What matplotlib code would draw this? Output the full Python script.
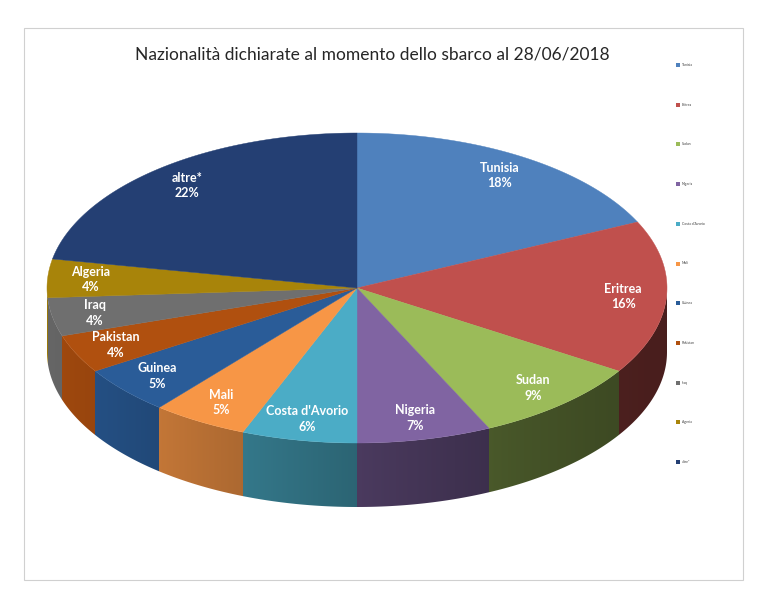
import numpy as np
import matplotlib
matplotlib.use("Agg")
import matplotlib.pyplot as plt
from matplotlib.patches import Polygon, Rectangle
from matplotlib.colors import to_rgb

plt.rcParams['font.family'] = ['Lato', 'DejaVu Sans']

title = "Nazionalità dichiarate al momento dello sbarco al 28/06/2018"
categories = ["Tunisia", "Eritrea", "Sudan", "Nigeria", "Costa d'Avorio", "Mali",
              "Guinea", "Pakistan", "Iraq", "Algeria", "altre*"]
values = [18, 16, 9, 7, 6, 5, 5, 4, 4, 4, 22]
colors = ["#4F81BD", "#C0504D", "#9BBB59", "#8064A2", "#4BACC6", "#F79646",
          "#2A5C98", "#B0500F", "#6F6F6F", "#A8840A", "#243F73"]

W, H = 767, 614
fig = plt.figure(figsize=(W / 100, H / 100), dpi=100)
ax = fig.add_axes([0, 0, 1, 1])
ax.set_xlim(0, W)
ax.set_ylim(H, 0)
ax.axis('off')

# chart frame
ax.add_patch(Rectangle((24, 28), 719, 552, fill=False, edgecolor="#D0D0D0", lw=0.8))

CX, CY, RX, RY, DEPTH = 357, 288, 310, 155, 64

def pt(theta_deg, r=1.0, dy=0.0):
    t = np.radians(theta_deg)
    return CX + RX * r * np.sin(t), CY - RY * r * np.cos(t) + dy

total = float(sum(values))
angles = np.concatenate([[0], np.cumsum(values) / total * 360.0])

def shade(theta_deg):
    s = np.sin(np.radians(theta_deg))
    u = (1 - s) / 2.0
    return 0.38 + 0.54 * u ** 1.4

# side band (front half, 90..270 deg) coloured column by column via a clipped image
ncol = 1400
xs_img = np.linspace(CX - RX, CX + RX, ncol)
s = np.clip((xs_img - CX) / RX, -1, 1)
theta_img = 180 - np.degrees(np.arcsin(s))
row = np.zeros((ncol, 3))
for k, th in enumerate(theta_img):
    idx = min(np.searchsorted(angles, th, side='right') - 1, len(colors) - 1)
    row[k] = np.clip(np.array(to_rgb(colors[idx])) * shade(th), 0, 1)
img = np.tile(row[None, :, :], (4, 1, 1))
im = ax.imshow(img, extent=(CX - RX, CX + RX, CY + RY + DEPTH + 5, CY - 5),
               aspect='auto', interpolation='nearest', zorder=1)
tt = np.linspace(90, 270, 400)
bx, by = pt(tt)
band = list(zip(bx, by)) + list(zip(bx[::-1], by[::-1] + DEPTH))
clip = Polygon(band, closed=True, facecolor='none', edgecolor='none', transform=ax.transData)
ax.add_patch(clip)
im.set_clip_path(clip)
ax.set_xlim(0, W)
ax.set_ylim(H, 0)

# top faces
for i, c in enumerate(colors):
    ts = np.linspace(angles[i], angles[i + 1], 200)
    xs, ys = pt(ts)
    poly = [(CX, CY)] + list(zip(xs, ys))
    ax.add_patch(Polygon(poly, closed=True, facecolor=c, edgecolor=c, lw=0.3, zorder=2))

# labels
for i, name in enumerate(categories):
    mid = (angles[i] + angles[i + 1]) / 2
    x, y = pt(mid, r=0.86)
    ax.text(x, y, f"{name}\n{values[i]}%", ha='center', va='center', color='white',
            fontsize=9, fontweight='bold', linespacing=1.35, zorder=3)

# title
ax.text(372, 55, title, ha='center', va='center', fontsize=12.5, color='#262626')

# tiny legend
for i, name in enumerate(categories):
    y = 65 + i * 39.7
    ax.add_patch(Rectangle((676, y - 2), 4, 4, facecolor=colors[i], edgecolor='none'))
    ax.text(682, y, name, ha='left', va='center', fontsize=2.5, color='#404040')

fig.savefig("out.png", dpi=100)
